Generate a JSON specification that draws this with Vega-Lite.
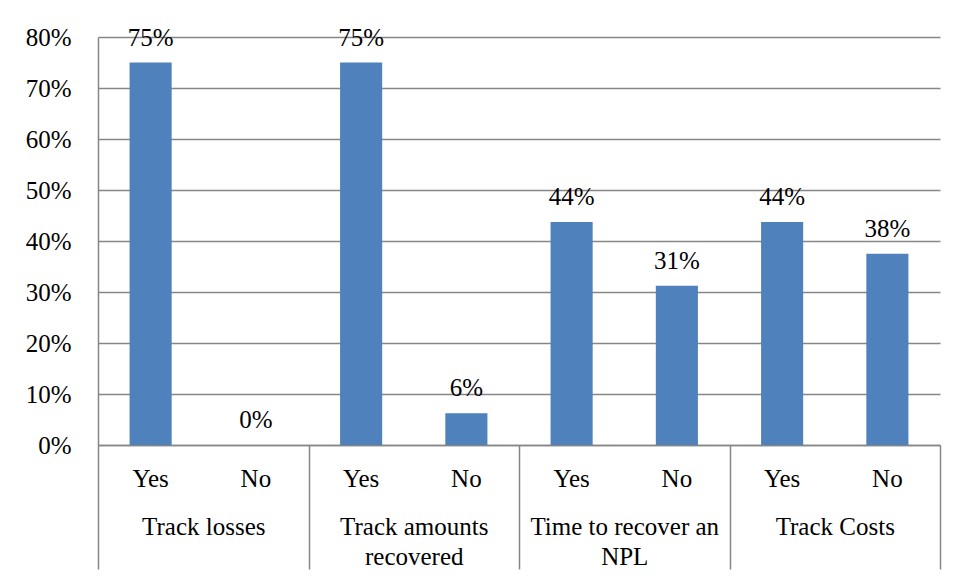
{
  "$schema": "https://vega.github.io/schema/vega-lite/v6.json",
  "width": 842,
  "height": 408,
  "autosize": {"type": "none"},
  "padding": {"left": 98, "top": 37, "right": 18, "bottom": 134},
  "background": "white",
  "config": {
    "view": {"stroke": null},
    "font": "Liberation Serif",
    "axis": {
      "labelFont": "Liberation Serif",
      "labelFontSize": 25,
      "labelColor": "black",
      "domainColor": "#868686",
      "domainWidth": 1.5,
      "gridColor": "#868686",
      "gridWidth": 1.5,
      "labelLimit": 0
    }
  },
  "data": {
    "values": [
      {"group": "Track losses", "answer": "Yes", "key": "Track losses|Yes", "value": 0.75},
      {"group": "Track losses", "answer": "No", "key": "Track losses|No", "value": 0},
      {"group": "Track amounts recovered", "answer": "Yes", "key": "Track amounts recovered|Yes", "value": 0.75},
      {"group": "Track amounts recovered", "answer": "No", "key": "Track amounts recovered|No", "value": 0.0625},
      {"group": "Time to recover an NPL", "answer": "Yes", "key": "Time to recover an NPL|Yes", "value": 0.4375},
      {"group": "Time to recover an NPL", "answer": "No", "key": "Time to recover an NPL|No", "value": 0.3125},
      {"group": "Track Costs", "answer": "Yes", "key": "Track Costs|Yes", "value": 0.4375},
      {"group": "Track Costs", "answer": "No", "key": "Track Costs|No", "value": 0.375}
    ]
  },
  "layer": [
    {
      "mark": {"type": "bar", "color": "#4F81BD", "width": {"band": 0.4}},
      "encoding": {
        "x": {
          "field": "key",
          "type": "nominal",
          "sort": null,
          "scale": {"paddingInner": 0, "paddingOuter": 0},
          "axis": {
            "orient": "bottom",
            "title": null,
            "labelAngle": 0,
            "labelExpr": "datum.value ? split(datum.value, '|')[1] : ''",
            "ticks": false,
            "labelPadding": 21,
            "labelBaseline": "top",
            "labelOverlap": false
          }
        },
        "y": {
          "field": "value",
          "type": "quantitative",
          "scale": {"domain": [0, 0.8], "nice": false},
          "axis": {
            "title": null,
            "format": ".0%",
            "values": [0, 0.1, 0.2, 0.3, 0.4, 0.5, 0.6, 0.7, 0.8],
            "ticks": false,
            "labelPadding": 27,
            "labelBaseline": "middle",
            "grid": true
          }
        }
      }
    },
    {
      "mark": {"type": "text", "font": "Liberation Serif", "fontSize": 25, "color": "black", "align": "center", "baseline": "alphabetic", "dy": -17},
      "encoding": {
        "x": {
          "field": "key",
          "type": "nominal",
          "sort": null,
          "axis": {
            "orient": "bottom",
            "title": null,
            "domain": false,
            "grid": false,
            "labelAngle": 0,
            "labelExpr": "datum.value ? (datum.value == 'Track losses|Yes' ? 'Track losses' : datum.value == 'Track amounts recovered|Yes' ? ['Track amounts', 'recovered'] : datum.value == 'Time to recover an NPL|Yes' ? ['Time to recover an', 'NPL'] : datum.value == 'Track Costs|Yes' ? 'Track Costs' : '') : ''",
            "labelOffset": 52.625,
            "labelPadding": -55,
            "labelBaseline": "top",
            "labelLineHeight": 30,
            "labelOverlap": false,
            "labelBound": false,
            "tickBand": "extent",
            "tickSize": 124,
            "tickWidth": 1.5,
            "tickColor": {"condition": {"test": "datum.value == null || indexof(datum.value, '|No') >= 0", "value": "#868686"}, "value": "transparent"}
          }
        },
        "y": {"field": "value", "type": "quantitative"},
        "text": {"field": "value", "type": "quantitative", "format": ".0%"}
      }
    }
  ],
  "resolve": {"axis": {"x": "independent"}}
}
